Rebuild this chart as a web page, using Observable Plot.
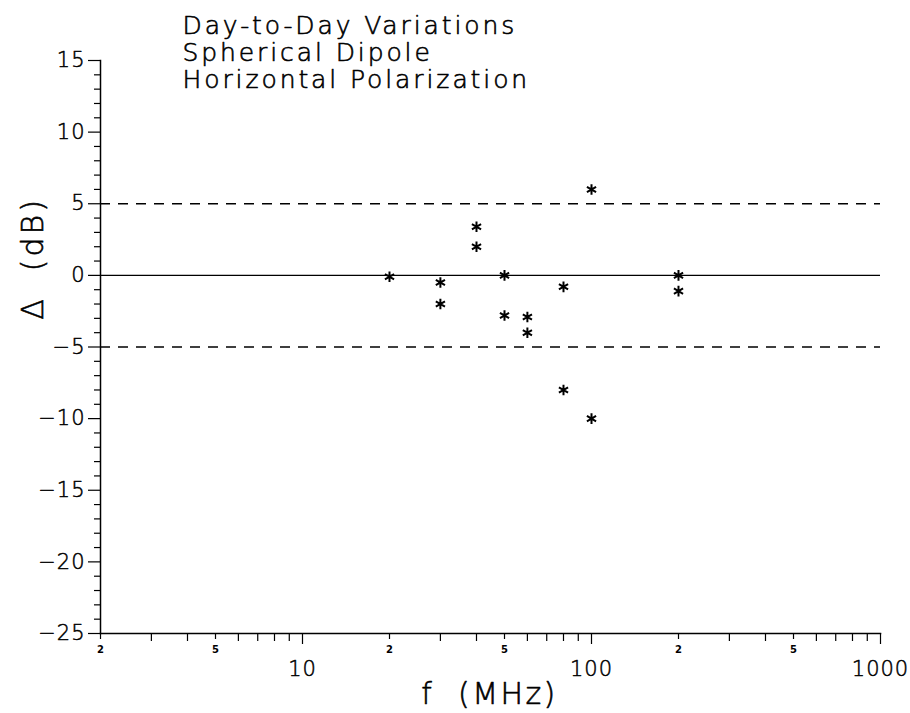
<!DOCTYPE html>
<html>
<head>
<meta charset="utf-8">
<script src="https://cdn.jsdelivr.net/npm/d3@7"></script>
<script src="https://cdn.jsdelivr.net/npm/@observablehq/plot@0.6"></script>
<style>
  html, body { margin: 0; padding: 0; background: #fff; }
  #chart svg { display: block; }
  .ttl text { letter-spacing: 2.9px; font-weight: 200; }
  .ylab text { letter-spacing: 3px; font-weight: 200; }
  .xlab text { letter-spacing: 2.4px; font-weight: 200; }
  .lightTicks text { font-weight: 200; letter-spacing: 1px; }
</style>
</head>
<body>
<div id="chart"></div>
<script>
// Data
const freqMHz = [20, 30, 30, 40, 40, 50, 50, 60, 60, 80, 80, 100, 100, 200, 200];
const deltaDB = [-0.1, -0.5, -2.0, 3.4, 2.0, 0.0, -2.8, -2.9, -4.0, -0.8, -8.0, 6.0, -10.0, 0.0, -1.1];
const titleLines = ["Day-to-Day Variations", "Spherical Dipole", "Horizontal Polarization"];
const limitLines = [5, -5];
const zeroLine = [0];
const yMajorTicks = [-25, -20, -15, -10, -5, 0, 5, 10, 15];
const yMinorTicks = d3.range(-25, 16, 1).filter(v => v % 5 !== 0);
const xDecadeTicks = [10, 100, 1000];
const xLabeledMinor = [2, 5, 20, 50, 200, 500];
const xLabeledMinorText = ["2", "5", "2", "5", "2", "5"];
const xPlainMinor = [3, 4, 6, 7, 8, 9, 30, 40, 60, 70, 80, 90, 300, 400, 600, 700, 800, 900];
const xLabel = "f\u00a0\u00a0(MHz)";
const yLabel = "\u0394\u00a0\u00a0(dB)";

const points = freqMHz.map((f, i) => ({f, d: deltaDB[i]}));
const minorLabels = xLabeledMinor.map((v, i) => ({v, t: xLabeledMinorText[i]}));
const FONT = "'DejaVu Sans', sans-serif";
const noLabel = () => "";
const fmtY = d => (d < 0 ? "\u2212" + Math.abs(d) : String(d));

const chart = Plot.plot({
  width: 910,
  height: 713,
  marginLeft: 100,
  marginRight: 30,
  marginTop: 60,
  marginBottom: 80,
  style: {fontFamily: FONT, color: "#000", background: "#fff"},
  x: {type: "log", domain: [2, 1000]},
  y: {domain: [-25, 15]},
  marks: [
    Plot.ruleY(limitLines, {stroke: "#000", strokeWidth: 1.4, strokeDasharray: "10,8"}),
    Plot.ruleY(zeroLine, {stroke: "#000", strokeWidth: 1.4}),
    Plot.frame({anchor: "left", stroke: "#000", strokeWidth: 1.5}),
    Plot.frame({anchor: "bottom", stroke: "#000", strokeWidth: 1.5}),
    Plot.axisY(yMinorTicks, {tickSize: 6, tickFormat: noLabel, label: null, stroke: "#000", strokeWidth: 1.2}),
    Plot.axisY(yMajorTicks, {tickSize: 12, tickFormat: noLabel, label: null, stroke: "#000", strokeWidth: 1.2}),
    Plot.text(yMajorTicks, {y: d => d, text: fmtY, frameAnchor: "left", dx: -15, textAnchor: "end", lineAnchor: "middle", fontSize: 21, fill: "#000", stroke: "#000", strokeWidth: 0.5, className: "lightTicks"}),
    Plot.axisX(xPlainMinor, {tickSize: 8, tickFormat: noLabel, label: null, stroke: "#000", strokeWidth: 1.2}),
    Plot.axisX(xLabeledMinor, {tickSize: 6, tickFormat: noLabel, label: null, stroke: "#000", strokeWidth: 1.2}),
    Plot.text(minorLabels, {x: "v", text: "t", frameAnchor: "bottom", dy: 16, lineAnchor: "middle", fontSize: 10, fontWeight: "bold", fill: "#000"}),
    Plot.axisX(xDecadeTicks, {tickSize: 11, tickFormat: noLabel, label: null, stroke: "#000", strokeWidth: 1.2}),
    Plot.text(xDecadeTicks, {x: d => d, text: d => String(d), frameAnchor: "bottom", dy: 36, lineAnchor: "middle", fontSize: 21, fill: "#000", stroke: "#000", strokeWidth: 0.5, className: "lightTicks"}),
    Plot.dot(points, {x: "f", y: "d", symbol: "asterisk", r: 5, stroke: "#000", strokeWidth: 2}),
    Plot.text([titleLines.join("\n")], {frameAnchor: "top-left", dx: 82, dy: -46, textAnchor: "start", lineAnchor: "top", fontSize: 25, lineHeight: 1.08, fill: "#000", stroke: "#000", strokeWidth: 0.6, className: "ttl"}),
    Plot.text([yLabel], {frameAnchor: "top-left", dx: -67, dy: 198, rotate: -90, textAnchor: "middle", lineAnchor: "middle", fontSize: 30, fill: "#000", stroke: "#000", strokeWidth: 0.6, className: "ylab"}),
    Plot.text([xLabel], {frameAnchor: "bottom", dx: -1, dy: 61, textAnchor: "middle", lineAnchor: "middle", fontSize: 30, fill: "#000", stroke: "#000", strokeWidth: 0.6, className: "xlab"})
  ]
});
document.getElementById("chart").appendChild(chart);
</script>
</body>
</html>
